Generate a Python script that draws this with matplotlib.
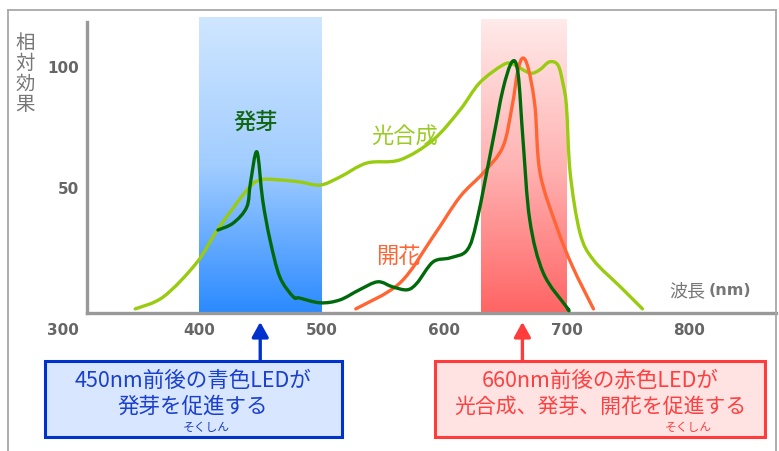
import numpy as np
import matplotlib
matplotlib.use("Agg")
import matplotlib.pyplot as plt
from matplotlib.colors import LinearSegmentedColormap
from matplotlib.patches import Rectangle, PathPatch
from matplotlib.path import Path

plt.rcParams['font.family'] = ['Noto Sans CJK JP', 'DejaVu Sans']

# photosynthesis (光合成) curve
photo_nm = [348, 371, 398, 415, 439, 450, 466, 482, 499, 515, 537, 564, 591, 613,
            629, 648, 656, 670, 678, 686, 693, 697, 700, 703, 711, 722, 744, 762]
photo_val = [0, 5, 19, 32.6, 49, 53.3, 53.3, 52.5, 51.2, 54.5, 60.3, 61.6, 69.8, 82.2,
             93.4, 100.8, 101.2, 97.5, 98.8, 102.1, 100.8, 93.4, 83.5, 56.2, 31.4, 20.2, 9.1, 0]

# germination (発芽) curve
germ_nm = [415.5, 428, 439, 442, 447.3, 452, 458, 466, 477, 482, 499, 515, 531, 546,
           558, 570, 578, 591, 605, 619, 627, 640, 648, 655.5, 660.4, 664.5, 670, 681, 700, 701]
germ_val = [32.6, 35.5, 42.1, 52, 64.9, 45, 28.5, 13.2, 5, 4.5, 2.5, 3.7, 7.9, 11.2,
            9.1, 7.9, 10.7, 19.4, 21.1, 24.4, 36.8, 69.8, 90.5, 102.1, 97.5, 69.8, 36.8, 14.9, 0.8, 0]

# flowering (開花) curve
flower_nm = [528, 564, 591, 613, 632, 648, 655.5, 660.4, 664.5, 669, 674.3, 678.4, 692, 705, 722]
flower_val = [0, 10.7, 29.8, 46.3, 56.2, 66.9, 83.5, 98.8, 103.7, 99, 83.5, 56.2, 33.9, 17.4, 0]

x_ticks = [300, 400, 500, 600, 700, 800]
y_ticks = [50, 100]
blue_band = (400, 500)
red_band = (630, 700)


def smooth_path(xs, ys):
    # Catmull-Rom through the read points, drawn as cubic Bezier segments
    p = np.column_stack([xs, ys]).astype(float)
    p = np.vstack([p[0], p, p[-1]])
    verts = [p[1]]
    codes = [Path.MOVETO]
    for i in range(1, len(p) - 2):
        c1 = p[i] + (p[i + 1] - p[i - 1]) / 6
        c2 = p[i + 1] - (p[i + 2] - p[i]) / 6
        verts += [c1, c2, p[i + 1]]
        codes += [Path.CURVE4] * 3
    return Path(verts, codes)


W, H = 779, 451
fig = plt.figure(figsize=(W / 100, H / 100), dpi=100)
fig.patch.set_facecolor("white")

# outer frame
fig.add_artist(plt.Line2D([8 / W, 8 / W], [0, 1 - 10 / H], color="#a8a8a8", lw=1.3))
fig.add_artist(plt.Line2D([8 / W, 776 / W], [1 - 10 / H, 1 - 10 / H], color="#a8a8a8", lw=1.3))
fig.add_artist(plt.Line2D([776 / W, 776 / W], [0, 1 - 10 / H], color="#a8a8a8", lw=1.3))

ax = fig.add_axes([87 / W, (H - 313) / H, (776 - 87) / W, (313 - 22) / H])
xmin, xmax = 308.6, 871
ymin, ymax = -1.7, 118.6

# gradient bands
grad = np.linspace(0, 1, 256).reshape(-1, 1)
blue_cmap = LinearSegmentedColormap.from_list("b", ["#cfe6ff", "#a2cdff", "#2a8aff"])
red_cmap = LinearSegmentedColormap.from_list("r", ["#ffeaea", "#ffb3b3", "#ff6464"])
ax.imshow(grad, cmap=blue_cmap, aspect="auto", origin="upper",
          extent=[blue_band[0], blue_band[1], ymin, ymax + 2], zorder=0, clip_on=False)
ax.imshow(grad, cmap=red_cmap, aspect="auto", origin="upper",
          extent=[red_band[0], red_band[1], ymin, ymax + 1], zorder=0, clip_on=False)
ax.set_xlim(xmin, xmax)
ax.set_ylim(ymin, ymax)

for xs, ys, col, z in [(photo_nm, photo_val, "#99cc11", 3),
                       (flower_nm, flower_val, "#ff6633", 4),
                       (germ_nm, germ_val, "#006a0a", 5)]:
    ax.add_patch(PathPatch(smooth_path(xs, ys), facecolor="none", edgecolor=col,
                           lw=2.4, capstyle="round", joinstyle="round", zorder=z))

for s in ["top", "right"]:
    ax.spines[s].set_visible(False)
for s in ["left", "bottom"]:
    ax.spines[s].set_color("#999999")
    ax.spines[s].set_linewidth(2.4)

ax.set_yticks(y_ticks)
ax.set_yticklabels([str(v) for v in y_ticks], fontsize=11, fontweight="bold",
                   color="#666666", family="DejaVu Sans")
ax.tick_params(axis="y", length=0, pad=6)
ax.set_xticks([])
for v in x_ticks:
    xv = v if v > xmin else 289
    ax.text(xv, -8.8, str(v), ha="center", va="center", fontsize=11, fontweight="bold",
            color="#666666", family="DejaVu Sans", clip_on=False)

# labels inside the plot
ax.text(446, 77, "発芽", color="#116611", fontsize=16, fontweight="medium", ha="center", va="center")
ax.text(568, 71, "光合成", color="#99cc22", fontsize=16, ha="center", va="center")
ax.text(563, 21.5, "開花", color="#ff6633", fontsize=16, ha="center", va="center")
ax.text(813, 7.5, "波長", color="#777777", fontsize=13, ha="right", va="center")
ax.text(816, 7.5, "(nm)", color="#777777", fontsize=11.5, fontweight="bold", ha="left", va="center",
        family="DejaVu Sans")

fig.text(25 / W, 1 - 74 / H, "相\n対\n効\n果", color="#777777", fontsize=14,
         ha="center", va="center", linespacing=0.95)

# annotation boxes
def px(x, y):
    return (x / W, 1 - y / H)

fig.add_artist(Rectangle(px(45, 437), (342 - 45) / W, (437 - 361) / H, facecolor="#d8e6ff",
                         edgecolor="#0033cc", lw=2.2))
fig.add_artist(Rectangle(px(435, 437), (765 - 435) / W, (437 - 361) / H, facecolor="#ffe2e2",
                         edgecolor="#ff3b3b", lw=2.2))

fig.text(*px(193, 381), "450nm前後の青色LEDが", color="#1a40cc", fontsize=15.5, ha="center", va="center")
fig.text(*px(193, 407), "発芽を促進する", color="#1a40cc", fontsize=15.5, ha="center", va="center")
fig.text(*px(206, 427), "そくしん", color="#1a40cc", fontsize=8.5, ha="center", va="center")

fig.text(*px(600, 381), "660nm前後の赤色LEDが", color="#ff4040", fontsize=15.5, ha="center", va="center")
fig.text(*px(600, 407), "光合成、発芽、開花を促進する", color="#ff4040", fontsize=15, ha="center", va="center")
fig.text(*px(688, 427), "そくしん", color="#ff4040", fontsize=8.5, ha="center", va="center")

for xv, col in [(450, "#0033cc"), (664, "#ff3b3b")]:
    ax.annotate("", xy=(xv, H - 322), xycoords=("data", "figure pixels"),
                xytext=(xv, H - 361), textcoords=("data", "figure pixels"),
                arrowprops=dict(arrowstyle="-|>,head_length=0.9,head_width=0.5",
                                color=col, lw=2.4, shrinkA=0, shrinkB=0),
                annotation_clip=False)

fig.savefig("out.png", dpi=100)
